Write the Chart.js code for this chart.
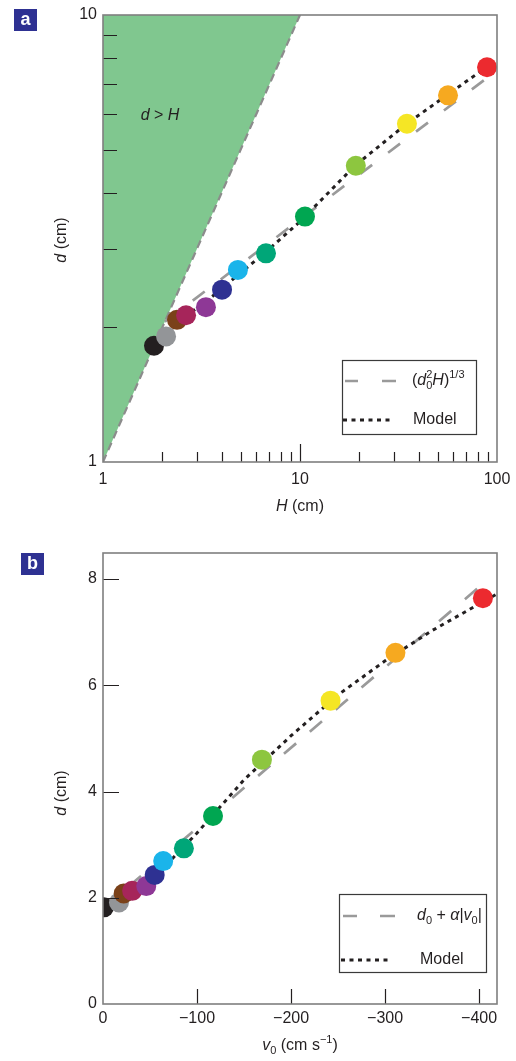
<!DOCTYPE html>
<html><head><meta charset="utf-8">
<script src="https://cdn.jsdelivr.net/npm/chart.js@4.4.0/dist/chart.umd.min.js"></script>
<style>
html,body{margin:0;padding:0;background:#fff;width:516px;height:1061px;overflow:hidden}
#ca{position:absolute;left:0;top:0}
#cb{position:absolute;left:0;top:530px}
</style></head><body>
<canvas id="ca" width="516" height="530"></canvas>
<canvas id="cb" width="516" height="531"></canvas>
<script>
// ---- data ----
const pointColors = ['#231f20','#939598','#7a4119','#a6255a','#8e3896','#2e3192','#1ab4ea','#00a678','#00a651','#8dc63f','#f5e625','#f6a920','#ec2a2f'];
const heightH   = [1.815, 2.09, 2.375, 2.64, 3.33, 4.02, 4.84, 6.72, 10.6, 19.2, 34.9, 56.4, 89];
const diameterD = [1.82, 1.91, 2.08, 2.13, 2.22, 2.43, 2.69, 2.93, 3.54, 4.6, 5.71, 6.61, 7.64];
const velocityV0 = [-1, -17, -22, -31, -46, -55, -64, -86, -117, -169, -242, -311, -404];
// model curve, panel a
const modelH = [1.82, 2.4, 3.2, 4.5, 6.7, 10, 19, 35, 56, 89];
const modelD = [1.82, 2.07, 2.25, 2.55, 2.95, 3.45, 4.6, 5.72, 6.63, 7.66];
// scaling law (d0^2 H)^(1/3), panel a
const scalingH = [2.06, 90];
const scalingD = [2.06, 7.26];
// d = H boundary, panel a
const boundaryH = [1, 10];
const boundaryD = [1, 10];
// model curve, panel b
const modelV0 = [0, -50, -100, -150, -200, -250, -300, -350, -419];
const modelDb = [1.83, 2.3, 3.22, 4.22, 5.05, 5.82, 6.46, 7.03, 7.72];
// linear law d0 + alpha|v0|, panel b
const linearV0 = [0, -410];
const linearD = [1.8, 8.0];
// ticks
const ticksAx = [1, 10, 100];
const ticksAy = [1, 10];
const ticksBx = [0, -100, -200, -300, -400];
const ticksBy = [0, 2, 4, 6, 8];

const F = "'Liberation Sans', Arial, sans-serif";
const TXT = '#231f20';
const FRAME = '#7f7f7f';

function pts(xs, ys){ return xs.map((x,i)=>({x:x, y:ys[i]})); }

function drawRich(ctx, parts, x, y, align, base){
  let w = 0;
  const items = parts.map(p=>{
    const size = p.s || base;
    ctx.font = (p.i?'italic ':'') + size + 'px ' + F;
    const m = ctx.measureText(p.t).width;
    const it = Object.assign({}, p, {size:size, w:m});
    if (p.adv !== false) w += m;
    return it;
  });
  let cx = align === 'center' ? x - w/2 : x;
  ctx.save();
  ctx.fillStyle = TXT;
  ctx.textBaseline = 'middle';
  ctx.textAlign = 'left';
  for (const it of items){
    ctx.font = (it.i?'italic ':'') + it.size + 'px ' + F;
    ctx.fillText(it.t, cx, y + (it.dy||0));
    if (it.adv !== false) cx += it.w;
  }
  ctx.restore();
}

function frameAndTicks(opts){
  return {
    id:'frameTicks',
    afterDatasetsDraw(chart){
      const ctx = chart.ctx, a = chart.chartArea;
      const xs = chart.scales.x, ys = chart.scales.y;
      ctx.save();
      ctx.strokeStyle = TXT; ctx.lineWidth = 1.2;
      ctx.beginPath();
      for (const t of opts.xTicks){
        const px = Math.round(xs.getPixelForValue(t.v)) + 0.5;
        ctx.moveTo(px, a.bottom); ctx.lineTo(px, a.bottom - t.len);
      }
      for (const t of opts.yTicks){
        const py = Math.round(ys.getPixelForValue(t.v)) + 0.5;
        ctx.moveTo(a.left, py); ctx.lineTo(a.left + t.len, py);
      }
      ctx.stroke();
      ctx.strokeStyle = FRAME; ctx.lineWidth = 1.6;
      ctx.strokeRect(a.left, a.top, a.right - a.left, a.bottom - a.top);
      ctx.restore();
      opts.extra(chart, ctx);
    }
  };
}

function legendBox(ctx, box, y1, y2, text1, dash1, dotX){
  ctx.save();
  ctx.fillStyle = '#fff';
  ctx.fillRect(box[0], box[1], box[2]-box[0], box[3]-box[1]);
  ctx.strokeStyle = '#3a3a3a'; ctx.lineWidth = 1.2;
  ctx.strokeRect(box[0]+0.5, box[1]+0.5, box[2]-box[0], box[3]-box[1]);
  ctx.strokeStyle = '#9a9a9a'; ctx.lineWidth = 2.7;
  ctx.beginPath();
  ctx.moveTo(dash1[0], y1); ctx.lineTo(dash1[1], y1);
  ctx.moveTo(dash1[2], y1); ctx.lineTo(dash1[3], y1);
  ctx.stroke();
  ctx.strokeStyle = TXT; ctx.lineWidth = 3; ctx.setLineDash([4,4.5]);
  ctx.beginPath(); ctx.moveTo(dotX[0], y2); ctx.lineTo(dotX[1], y2); ctx.stroke();
  ctx.restore();
  drawRich(ctx, text1.parts, text1.x, y1, 'left', 16);
  drawRich(ctx, [{t:'Model'}], text1.x2, y2, 'left', 16);
}

function panelLabel(ctx, x, y, ch){
  ctx.save();
  ctx.fillStyle = '#2e3192';
  ctx.fillRect(x, y, 23, 22);
  ctx.fillStyle = '#fff';
  ctx.font = 'bold 18px ' + F;
  ctx.textAlign = 'center'; ctx.textBaseline = 'middle';
  ctx.fillText(ch, x + 11.5, y + 11);
  ctx.restore();
}

function yTitle(ctx, x, y){
  ctx.save();
  ctx.translate(x, y); ctx.rotate(-Math.PI/2);
  drawRich(ctx, [{t:'d', i:true},{t:' (cm)'}], 0, 0, 'center', 16);
  ctx.restore();
}

const common = {
  responsive:false, animation:false, devicePixelRatio:1,
  plugins:{legend:{display:false}, tooltip:{enabled:false}},
  events:[]
};

function fitX(h){ return s=>{ s.height = h; s.paddingLeft = 0; s.paddingRight = 0; }; }
function fitY(w){ return s=>{ s.width = w; s.paddingTop = 0; s.paddingBottom = 0; }; }

// ---------- panel a ----------
const minorA = [];
[2,3,4,5,6,7,8,9].forEach(v=>minorA.push({v:v, len:10}));
[20,30,40,50,60,70,80,90].forEach(v=>minorA.push({v:v, len:10}));
minorA.push({v:10, len:18});
const minorAy = [2,3,4,5,6,7,8,9].map(v=>({v:v, len:14}));

new Chart(document.getElementById('ca'), {
  type:'line',
  data:{datasets:[
    {data:pts(heightH, diameterD), showLine:false, pointRadius:10, pointHoverRadius:10,
     pointBackgroundColor:pointColors, pointBorderWidth:0},
    {data:pts(modelH, modelD), borderColor:TXT, borderWidth:3, borderDash:[4,4.5], pointRadius:0, fill:false},
    {data:pts(scalingH, scalingD), borderColor:'#9a9a9a', borderWidth:2.7, borderDash:[15,20], pointRadius:0, fill:false},
    {data:pts(boundaryH, boundaryD), borderColor:'#8c8c8c', borderWidth:2.2, borderDash:[8,5], pointRadius:0,
     fill:'end', backgroundColor:'#80c78f'}
  ]},
  options:Object.assign({}, common, {
    layout:{padding:{top:15, right:19, left:0, bottom:0}},
    scales:{
      x:{type:'logarithmic', min:1, max:100,
         grid:{display:false, drawTicks:false}, border:{display:false},
         afterBuildTicks:s=>{s.ticks = ticksAx.map(v=>({value:v}));},
         afterFit:fitX(68),
         ticks:{callback:v=>String(v), autoSkip:false, maxRotation:0, padding:8, color:TXT, font:{family:F, size:16}}},
      y:{type:'logarithmic', min:1, max:10,
         grid:{display:false, drawTicks:false}, border:{display:false},
         afterBuildTicks:s=>{s.ticks = ticksAy.map(v=>({value:v}));},
         afterFit:fitY(103),
         ticks:{callback:v=>String(v), autoSkip:false, padding:6, color:TXT, font:{family:F, size:16}}}
    }
  }),
  plugins:[frameAndTicks({xTicks:minorA, yTicks:minorAy, extra:(chart, ctx)=>{
    drawRich(ctx, [{t:'d', i:true},{t:' > '},{t:'H', i:true}], 160, 116, 'center', 16);
    legendBox(ctx, [342,360,476,434], 381, 420,
      {x:412, x2:413, parts:[{t:'('},{t:'d', i:true},{t:'0', s:11, dy:5, adv:false},{t:'2', s:11, dy:-6},{t:'H', i:true},{t:')'},{t:'1/3', s:11, dy:-6}]},
      [345,358,382,396], [343,394]);
    panelLabel(ctx, 14, 9, 'a');
    yTitle(ctx, 62, 240);
    drawRich(ctx, [{t:'H', i:true},{t:' (cm)'}], 300, 507, 'center', 16);
  }})]
});

// ---------- panel b ----------
const tickBx = [-100,-200,-300,-400].map(v=>({v:v, len:15}));
const tickBy = [2,4,6,8].map(v=>({v:v, len:16}));

new Chart(document.getElementById('cb'), {
  type:'line',
  data:{datasets:[
    {data:pts(velocityV0, diameterD), showLine:false, pointRadius:10, pointHoverRadius:10,
     pointBackgroundColor:pointColors, pointBorderWidth:0},
    {data:pts(modelV0, modelDb), borderColor:TXT, borderWidth:3, borderDash:[4,4.5], pointRadius:0, fill:false},
    {data:pts(linearV0, linearD), borderColor:'#9a9a9a', borderWidth:2.7, borderDash:[16,18], pointRadius:0, fill:false}
  ]},
  options:Object.assign({}, common, {
    layout:{padding:{top:23, right:19, left:0, bottom:0}},
    scales:{
      x:{type:'linear', min:-419, max:0, reverse:true,
         grid:{display:false, drawTicks:false}, border:{display:false},
         afterBuildTicks:s=>{s.ticks = ticksBx.map(v=>({value:v}));},
         afterFit:fitX(57),
         ticks:{callback:v=>v===0?'0':'\u2212'+Math.abs(v), autoSkip:false, maxRotation:0, padding:5, color:TXT, font:{family:F, size:16}}},
      y:{type:'linear', min:0, max:8.49,
         grid:{display:false, drawTicks:false}, border:{display:false},
         afterBuildTicks:s=>{s.ticks = ticksBy.map(v=>({value:v}));},
         afterFit:fitY(103),
         ticks:{callback:v=>String(v), autoSkip:false, padding:6, color:TXT, font:{family:F, size:16}}}
    }
  }),
  plugins:[frameAndTicks({xTicks:tickBx, yTicks:tickBy, extra:(chart, ctx)=>{
    legendBox(ctx, [339,364,486,442], 386, 430,
      {x:417, x2:420, parts:[{t:'d', i:true},{t:'0', s:11, dy:5},{t:' + '},{t:'\u03b1', i:true},{t:'|'},{t:'v', i:true},{t:'0', s:11, dy:5},{t:'|'}]},
      [343,357,380,395], [341,392]);
    panelLabel(ctx, 21, 23, 'b');
    yTitle(ctx, 62, 263);
    drawRich(ctx, [{t:'v', i:true},{t:'0', s:11, dy:5},{t:' (cm s'},{t:'\u22121', s:11, dy:-6},{t:')'}], 300, 516, 'center', 16);
  }})]
});
</script>
</body></html>
